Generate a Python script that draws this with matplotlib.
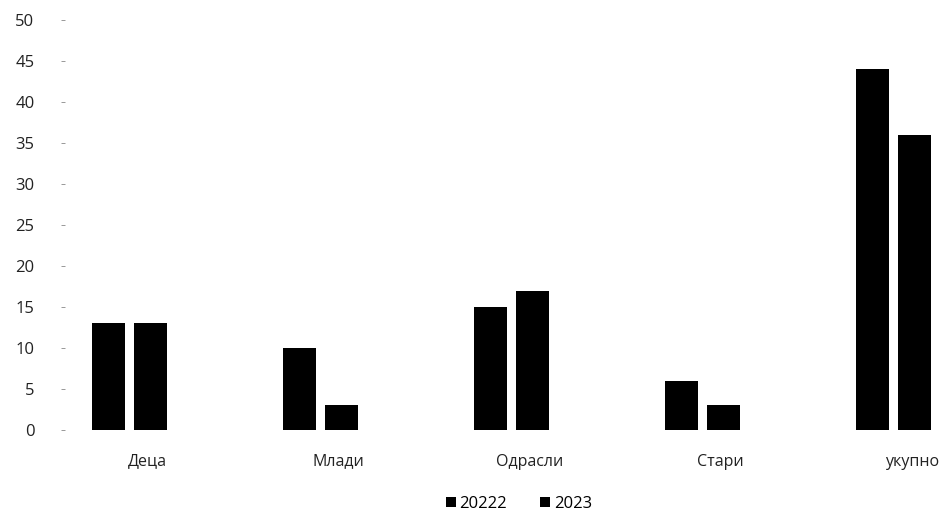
import matplotlib
matplotlib.use("Agg")
import matplotlib.pyplot as plt
import matplotlib.transforms as mtransforms
from matplotlib.patches import Patch
import numpy as np

categories = ["Деца", "Млади", "Одрасли", "Стари", "укупно"]
series_names = ["20222", "2023"]
values_2022 = [13, 10, 15, 6, 44]
values_2023 = [13, 3, 17, 3, 36]
y_ticks = [0, 5, 10, 15, 20, 25, 30, 35, 40, 45, 50]

plt.rcParams['font.family'] = ['Open Sans', 'DejaVu Sans']

fig = plt.figure(figsize=(9.49, 5.14), dpi=100)
W, H = 949, 514
ax = fig.add_axes([65 / W, 1 - 430 / H, (949 - 65) / W, (430 - 20) / H])

x = np.arange(len(categories))
bw = 0.173
off = 0.11
ax.bar(x - off, values_2022, width=bw, color='black', label=series_names[0])
ax.bar(x + off, values_2023, width=bw, color='black', label=series_names[1])

ax.set_xlim(-0.338, 4.29)
ax.set_ylim(0, 50)
ax.set_yticks(y_ticks)
ax.set_yticklabels([str(v) for v in y_ticks], fontsize=12, color='#222222')
ax.set_xticks(x)
ax.set_xticklabels(categories, fontsize=11.5, color='#222222')
for s in ax.spines.values():
    s.set_visible(False)
ax.tick_params(axis='y', length=3, width=0.6, color='#888888', pad=19)
ax.tick_params(axis='x', length=0, pad=17)

shift = mtransforms.ScaledTranslation(18 / 100, 0, fig.dpi_scale_trans)
for lab in ax.get_xticklabels():
    lab.set_transform(lab.get_transform() + shift)

handles = [Patch(facecolor='black'), Patch(facecolor='black')]
fig.legend(handles, series_names, loc='center', bbox_to_anchor=(519 / W, 1 - 504 / H),
           ncol=2, frameon=False, fontsize=12, handlelength=0.6, handleheight=0.6,
           handletextpad=0.2, columnspacing=2.0)

fig.savefig("out.png", dpi=100, facecolor='white')
